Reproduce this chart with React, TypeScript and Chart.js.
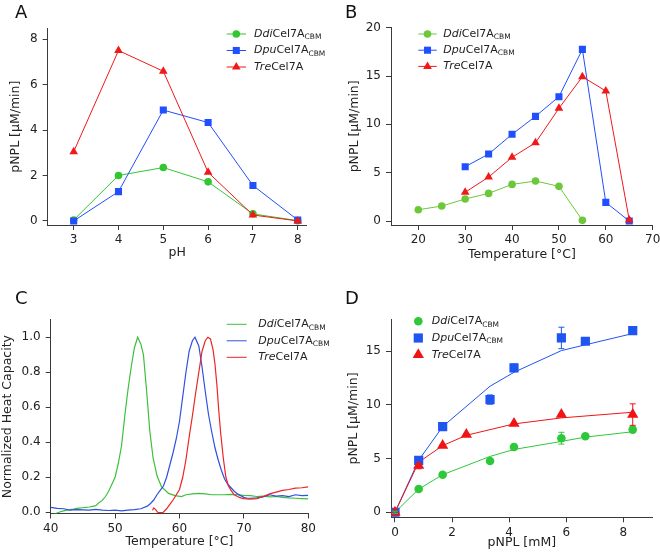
import React, { useEffect, useRef } from "react";
import { Chart, registerables } from "chart.js";
Chart.register(...registerables);

const FONT = "'DejaVu Sans', Verdana, sans-serif";
const AXIS = "#3a3a3a";
const TEXT = "#222222";

// ---------- Panel A: pH profile ----------
const phX = [3, 4, 5, 6, 7, 8];
const phDdi = [0.04, 2.0, 2.35, 1.72, 0.31, 0.01];
const phDpu = [0.0, 1.29, 4.88, 4.33, 1.56, 0.04];
const phTre = [3.05, 7.5, 6.59, 2.14, 0.26, 0.0];
const aTicksX = [3, 4, 5, 6, 7, 8];
const aTicksY = [0, 2, 4, 6, 8];

// ---------- Panel B: temperature profile ----------
const tDdiX = [20, 25, 30, 35, 40, 45, 50, 55];
const tDdiY = [1.17, 1.55, 2.28, 2.86, 3.79, 4.14, 3.59, 0.07];
const tDpuX = [30, 35, 40, 45, 50, 55, 60, 65];
const tDpuY = [5.62, 6.93, 8.97, 10.83, 12.86, 17.76, 1.93, 0.0];
const tTreX = [30, 35, 40, 45, 50, 55, 60, 65];
const tTreY = [2.97, 4.55, 6.59, 8.1, 11.66, 14.93, 13.45, 0.1];
const bTicksX = [20, 30, 40, 50, 60, 70];
const bTicksY = [0, 5, 10, 15, 20];

// ---------- Panel C: DSC ----------
const cDdiT = [40.5, 41, 41.5, 42, 42.5, 43, 43.5, 44, 44.5, 45, 45.5, 46, 46.5, 47, 47.5, 48, 48.5, 49, 49.5, 50, 50.5, 51, 51.5, 52, 52.5, 53, 53.5, 54, 54.4, 54.9, 55.4, 55.9, 56.5, 57.2, 58.3, 59.3, 60.3, 61, 62, 63, 64, 65, 66, 67, 68, 69, 70, 71, 72, 73, 74, 75, 76, 77, 78, 79, 80];
const cDdiY = [-0.012, -0.004, 0.003, 0.008, 0.012, 0.015, 0.018, 0.022, 0.024, 0.026, 0.028, 0.03, 0.034, 0.038, 0.055, 0.068, 0.09, 0.12, 0.16, 0.2, 0.28, 0.38, 0.55, 0.7, 0.83, 0.94, 1.0, 0.96, 0.9, 0.69, 0.46, 0.31, 0.21, 0.146, 0.108, 0.095, 0.09, 0.1, 0.105, 0.108, 0.105, 0.1, 0.1, 0.1, 0.102, 0.1, 0.097, 0.095, 0.09, 0.092, 0.088, 0.09, 0.085, 0.082, 0.08, 0.078, 0.076];
const cDpuT = [40, 41, 42, 43, 44, 45, 46, 47, 48, 49, 50, 51, 52, 53, 54, 55, 55.5, 56, 56.5, 57, 57.5, 58, 58.5, 59, 59.5, 60, 60.5, 61, 61.5, 62, 62.4, 63, 63.5, 64, 64.5, 65, 65.5, 66, 66.5, 67, 67.5, 68, 68.5, 69, 69.5, 70, 70.5, 71, 72, 73, 74, 75, 76, 77, 78, 79, 80];
const cDpuY = [0.028, 0.022, 0.02, 0.012, 0.015, 0.014, 0.012, 0.016, 0.012, 0.01, 0.012, 0.008, 0.012, 0.015, 0.02, 0.035, 0.05, 0.07, 0.1, 0.125, 0.15, 0.2, 0.27, 0.34, 0.42, 0.52, 0.66, 0.8, 0.92, 0.98, 1.0, 0.95, 0.83, 0.69, 0.56, 0.46, 0.37, 0.3, 0.24, 0.19, 0.16, 0.14, 0.12, 0.105, 0.095, 0.085, 0.08, 0.08, 0.082, 0.088, 0.1, 0.092, 0.095, 0.09, 0.1, 0.095, 0.097];
const cTreT = [55.8, 56.0, 56.3, 56.6, 57, 57.5, 58, 58.5, 59, 59.5, 60, 60.5, 61, 61.5, 62, 62.5, 63, 63.5, 64, 64.4, 64.8, 65.2, 65.5, 65.8, 66.1, 66.4, 66.8, 67.2, 67.6, 68, 68.5, 69, 69.5, 70, 71, 72, 73, 74, 75, 76, 77, 78, 79, 80];
const cTreY = [0.012, 0.025, 0.015, 0.0, -0.002, 0.0, 0.02, 0.045, 0.07, 0.1, 0.13, 0.2, 0.3, 0.43, 0.55, 0.68, 0.8, 0.92, 0.98, 1.0, 0.99, 0.93, 0.85, 0.73, 0.58, 0.45, 0.31, 0.2, 0.15, 0.125, 0.1, 0.09, 0.082, 0.078, 0.075, 0.078, 0.09, 0.105, 0.115, 0.125, 0.13, 0.138, 0.14, 0.145];
const cTicksX = [40, 50, 60, 70, 80];
const cTicksY = [0, 0.2, 0.4, 0.6, 0.8, 1.0];

// ---------- Panel D: kinetics ----------
const kX = [0, 0.83, 1.67, 3.33, 4.17, 5.83, 6.67, 8.33];
const kDdiY = [0, 2.17, 3.5, 4.78, 6.08, 6.9, 7.08, 7.7];
const kDdiErr = [0.1, 0.1, 0.12, 0.1, 0.25, 0.55, 0.12, 0.25];
const kDdiFit = [0, 2.15, 3.5, 5.2, 5.85, 6.6, 7.0, 7.5];
const kDpuY = [0, 4.84, 7.98, 10.5, 13.45, 16.24, 15.93, 16.93];
const kDpuErr = [0.1, 0.15, 0.2, 0.43, 0.35, 1.0, 0.2, 0.1];
const kDpuFit = [0, 4.84, 7.98, 11.74, 13.04, 15.06, 15.6, 16.65];
const kTreX = [0, 0.83, 1.67, 2.5, 4.17, 5.83, 8.33];
const kTreY = [0, 4.35, 6.21, 7.24, 8.26, 9.1, 9.1];
const kTreErr = [0.1, 0.3, 0.1, 0.1, 0.1, 0.1, 1.0];
const kTreFit = [0, 4.66, 6.21, 7.17, 8.23, 8.79, 9.32];
const dTicksX = [0, 2, 4, 6, 8];
const dTicksY = [0, 5, 10, 15];

const pts = (xs: number[], ys: number[]) => xs.map((x, i) => ({ x, y: ys[i] }));

type Shape = "circle" | "rect" | "triangle" | "none";

function drawMarker(ctx: CanvasRenderingContext2D, shape: Shape, x: number, y: number, r: number, color: string) {
  ctx.fillStyle = color;
  ctx.beginPath();
  if (shape === "circle") {
    ctx.arc(x, y, r, 0, Math.PI * 2);
  } else if (shape === "rect") {
    const s = Math.SQRT1_2 * r;
    ctx.rect(x - s, y - s, 2 * s, 2 * s);
  } else if (shape === "triangle") {
    let a = 0;
    ctx.moveTo(x + Math.sin(a) * r, y - Math.cos(a) * r);
    a += (2 * Math.PI) / 3;
    ctx.lineTo(x + Math.sin(a) * r, y - Math.cos(a) * r);
    a += (2 * Math.PI) / 3;
    ctx.lineTo(x + Math.sin(a) * r, y - Math.cos(a) * r);
    ctx.closePath();
  } else return;
  ctx.fill();
}

type LegItem = { it: string; rest: string; sub?: string; color: string; shape: Shape; r: number };

function legendPlugin(items: LegItem[], cfg: { x0: number; x1: number; mx: number; tx: number; y0: number; dy: number; line: boolean; size: number }) {
  return {
    id: "customLegend",
    afterDraw(chart: any) {
      const ctx: CanvasRenderingContext2D = chart.ctx;
      ctx.save();
      items.forEach((item, i) => {
        const y = cfg.y0 + i * cfg.dy;
        if (cfg.line) {
          ctx.strokeStyle = item.color;
          ctx.lineWidth = 1;
          ctx.beginPath();
          ctx.moveTo(cfg.x0, y);
          ctx.lineTo(cfg.x1, y);
          ctx.stroke();
        }
        drawMarker(ctx, item.shape, cfg.mx, y, item.r, item.color);
        ctx.fillStyle = TEXT;
        ctx.textBaseline = "middle";
        ctx.textAlign = "left";
        let x = cfg.tx;
        ctx.font = `italic ${cfg.size}px ${FONT}`;
        ctx.fillText(item.it, x, y);
        x += ctx.measureText(item.it).width;
        ctx.font = `${cfg.size}px ${FONT}`;
        ctx.fillText(item.rest, x, y);
        x += ctx.measureText(item.rest).width;
        if (item.sub) {
          ctx.font = `${Math.round(cfg.size * 0.68 * 10) / 10}px ${FONT}`;
          ctx.fillText(item.sub, x, y + cfg.size * 0.3);
        }
      });
      ctx.restore();
    },
  };
}

const errorBarPlugin = {
  id: "errorBars",
  afterDatasetsDraw(chart: any) {
    const ctx: CanvasRenderingContext2D = chart.ctx;
    const ys = chart.scales.y;
    chart.data.datasets.forEach((ds: any, di: number) => {
      if (!ds.errY) return;
      const meta = chart.getDatasetMeta(di);
      ctx.save();
      ctx.strokeStyle = ds.borderColor;
      ctx.lineWidth = 1;
      meta.data.forEach((el: any, i: number) => {
        const e = ds.errY[i];
        const v = ds.data[i].y;
        const top = ys.getPixelForValue(v + e);
        const bot = ys.getPixelForValue(v - e);
        const x = el.x;
        ctx.beginPath();
        ctx.moveTo(x, top);
        ctx.lineTo(x, bot);
        ctx.moveTo(x - 3, top);
        ctx.lineTo(x + 3, top);
        ctx.moveTo(x - 3, bot);
        ctx.lineTo(x + 3, bot);
        ctx.stroke();
      });
      ctx.restore();
    });
  },
};

function axis(o: { min: number; max: number; ticks: number[]; title: string; titlePad: number; size: number; horizontal: boolean; fmt?: (v: number) => string }) {
  return {
    type: "linear",
    min: o.min,
    max: o.max,
    afterBuildTicks: (s: any) => {
      s.ticks = o.ticks.map((v) => ({ value: v }));
    },
    afterFit: (s: any) => {
      if (o.horizontal) {
        s.height = o.size;
        s.paddingLeft = 0;
        s.paddingRight = 0;
      } else {
        s.width = o.size;
        s.paddingTop = 0;
        s.paddingBottom = 0;
      }
    },
    grid: { display: true, drawOnChartArea: false, drawTicks: true, tickLength: 5, color: AXIS, lineWidth: 1 },
    border: { display: true, color: AXIS, width: 1 },
    ticks: {
      font: { family: FONT, size: 12 },
      color: TEXT,
      padding: o.horizontal ? 3 : 5,
      autoSkip: false,
      maxRotation: 0,
      minRotation: 0,
      callback: (v: number) => (o.fmt ? o.fmt(v) : String(v)),
    },
    title: {
      display: true,
      text: o.title,
      color: TEXT,
      font: { family: FONT, size: 12.5 },
      padding: o.horizontal ? { top: 0, bottom: o.titlePad } : { top: o.titlePad, bottom: 0 },
    },
  };
}

const GREEN_A = "#33c633";
const BLUE_A = "#1f4fff";
const RED_A = "#f01818";
const GREEN_B = "#6cc83a";

function lineDs(data: any[], color: string, shape: Shape, r: number, extra: any = {}) {
  return {
    data,
    borderColor: color,
    backgroundColor: color,
    borderWidth: 1,
    pointStyle: shape === "none" ? false : shape,
    pointRadius: shape === "none" ? 0 : r,
    pointBorderWidth: 0,
    pointBackgroundColor: color,
    showLine: true,
    tension: 0,
    ...extra,
  };
}

function baseOptions(pad: { top: number; right: number }, x: any, y: any) {
  return {
    responsive: false,
    maintainAspectRatio: false,
    animation: false,
    devicePixelRatio: 1,
    layout: { padding: { left: 0, top: pad.top, right: pad.right, bottom: 0 } },
    plugins: { legend: { display: false }, tooltip: { enabled: false }, title: { display: false } },
    scales: { x, y },
  };
}

function legItems(colors: string[], shapes: Shape[], radii: number[]): LegItem[] {
  return [
    { it: "Ddi", rest: "Cel7A", sub: "CBM", color: colors[0], shape: shapes[0], r: radii[0] },
    { it: "Dpu", rest: "Cel7A", sub: "CBM", color: colors[1], shape: shapes[1], r: radii[1] },
    { it: "Tre", rest: "Cel7A", color: colors[2], shape: shapes[2], r: radii[2] },
  ];
}

const makeA = () => ({
  type: "scatter",
  data: {
    datasets: [
      lineDs(pts(phX, phTre), RED_A, "triangle", 5),
      lineDs(pts(phX, phDpu), BLUE_A, "rect", 5),
      lineDs(pts(phX, phDdi), GREEN_A, "circle", 3.8),
    ],
  },
  options: baseOptions(
    { top: 28.3, right: 23.3 },
    axis({ min: 2.42, max: 8.2, ticks: aTicksX, title: "pH", titlePad: 17.5, size: 53, horizontal: true }),
    axis({ min: -0.18, max: 8.48, ticks: aTicksY, title: "pNPL [µM/min]", titlePad: 8, size: 47.7, horizontal: false })
  ),
  plugins: [
    legendPlugin(legItems([GREEN_A, BLUE_A, RED_A], ["circle", "rect", "triangle"], [3.8, 5, 5]), {
      x0: 226.7, x1: 246, mx: 236.3, tx: 254, y0: 34, dy: 16.5, line: true, size: 11,
    }),
  ],
});

const makeB = () => ({
  type: "scatter",
  data: {
    datasets: [
      lineDs(pts(tTreX, tTreY), RED_A, "triangle", 5),
      lineDs(pts(tDpuX, tDpuY), BLUE_A, "rect", 5),
      lineDs(pts(tDdiX, tDdiY), GREEN_B, "circle", 3.8),
    ],
  },
  options: baseOptions(
    { top: 27.7, right: 7.3 },
    axis({ min: 14.18, max: 70, ticks: bTicksX, title: "Temperature [°C]", titlePad: 15.5, size: 53, horizontal: true }),
    axis({ min: -0.41, max: 20, ticks: bTicksY, title: "pNPL [µM/min]", titlePad: 17.5, size: 61, horizontal: false })
  ),
  plugins: [
    legendPlugin(legItems([GREEN_B, BLUE_A, RED_A], ["circle", "rect", "triangle"], [3.8, 5, 5]), {
      x0: 88.3, x1: 106.7, mx: 97.5, tx: 113.3, y0: 34, dy: 16.2, line: true, size: 11,
    }),
  ],
});

const GREEN_C = "#3cc03c";
const BLUE_C = "#3050e0";
const RED_C = "#ec2424";

const makeC = () => ({
  type: "scatter",
  data: {
    datasets: [
      lineDs(pts(cTreT, cTreY), RED_C, "none", 0, { borderWidth: 1.2 }),
      lineDs(pts(cDpuT, cDpuY), BLUE_C, "none", 0, { borderWidth: 1.2 }),
      lineDs(pts(cDdiT, cDdiY), GREEN_C, "none", 0, { borderWidth: 1.2 }),
    ],
  },
  options: baseOptions(
    { top: 41.7, right: 21.7 },
    axis({ min: 40, max: 80, ticks: cTicksX, title: "Temperature [°C]", titlePad: 6.5, size: 42.5, horizontal: true }),
    axis({ min: -0.007, max: 1.1, ticks: cTicksY, title: "Normalized Heat Capacity", titlePad: 0, size: 50.7, horizontal: false, fmt: (v) => v.toFixed(1) })
  ),
  plugins: [
    legendPlugin(legItems([GREEN_C, BLUE_C, RED_C], ["none", "none", "none"], [0, 0, 0]), {
      x0: 226.7, x1: 246.7, mx: 0, tx: 258.3, y0: 46.3, dy: 16.5, line: true, size: 11,
    }),
  ],
});

const GREEN_D = "#2ec83a";
const BLUE_D = "#1f55f0";
const RED_D = "#f01414";

function markerDs(data: any[], color: string, shape: Shape, r: number, err: number[]) {
  return {
    data,
    errY: err,
    borderColor: color,
    backgroundColor: color,
    showLine: false,
    pointStyle: shape,
    pointRadius: r,
    pointBorderWidth: 0,
    pointBackgroundColor: color,
  };
}

const makeD = () => ({
  type: "scatter",
  data: {
    datasets: [
      markerDs(pts(kTreX, kTreY), RED_D, "triangle", 6.5, kTreErr),
      markerDs(pts(kX, kDpuY), BLUE_D, "rect", 6.5, kDpuErr),
      markerDs(pts(kX, kDdiY), GREEN_D, "circle", 4.3, kDdiErr),
      lineDs(pts(kTreX, kTreFit), RED_D, "none", 0),
      lineDs(pts(kX, kDpuFit), BLUE_D, "none", 0),
      lineDs(pts(kX, kDdiFit), GREEN_D, "none", 0),
    ],
  },
  options: baseOptions(
    { top: 41.7, right: 7.3 },
    axis({ min: -0.14, max: 9.03, ticks: dTicksX, title: "pNPL [mM]", titlePad: 5.5, size: 38.7, horizontal: true }),
    axis({ min: -0.47, max: 17.94, ticks: dTicksY, title: "pNPL [µM/min]", titlePad: 16.5, size: 61, horizontal: false })
  ),
  plugins: [
    errorBarPlugin,
    legendPlugin(legItems([GREEN_D, BLUE_D, RED_D], ["circle", "rect", "triangle"], [4.3, 6.5, 6.5]), {
      x0: 0, x1: 0, mx: 88.3, tx: 101.7, y0: 43.3, dy: 16.7, line: false, size: 11,
    }),
  ],
});

function ChartPanel({ left, top, make }: { left: number; top: number; make: () => any }) {
  const ref = useRef<HTMLCanvasElement | null>(null);
  useEffect(() => {
    const chart = new Chart(ref.current as HTMLCanvasElement, make());
    return () => chart.destroy();
  }, [make]);
  return (
    <canvas
      ref={ref}
      width={330}
      height={278}
      style={{ position: "absolute", left, top, width: 330, height: 278, display: "block" }}
    />
  );
}

const letterStyle = (left: number, top: number): React.CSSProperties => ({
  position: "absolute",
  left,
  top,
  fontFamily: FONT,
  fontSize: 18,
  lineHeight: "18px",
  color: "#111",
});

export default function App() {
  return (
    <div style={{ position: "absolute", left: 0, top: 0, width: 660, height: 556, background: "#fff", overflow: "hidden" }}>
      <ChartPanel left={0} top={0} make={makeA} />
      <ChartPanel left={330} top={0} make={makeB} />
      <ChartPanel left={0} top={278} make={makeC} />
      <ChartPanel left={330} top={278} make={makeD} />
      <div style={letterStyle(15, 3)}>A</div>
      <div style={letterStyle(345, 3)}>B</div>
      <div style={letterStyle(15, 289)}>C</div>
      <div style={letterStyle(345, 289)}>D</div>
    </div>
  );
}
